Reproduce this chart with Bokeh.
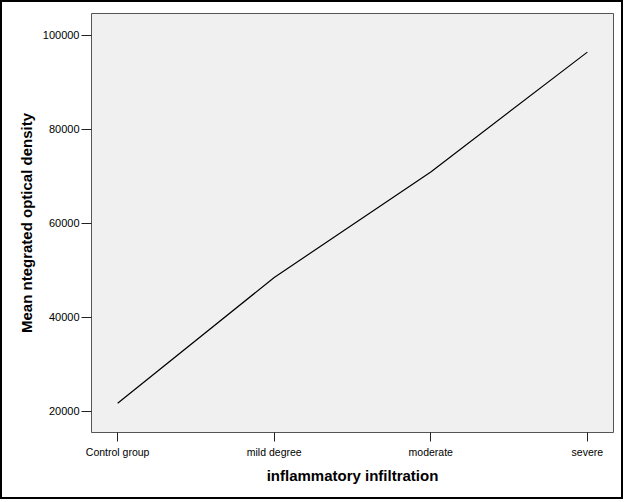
from bokeh.plotting import figure
from bokeh.models import Range1d, FixedTicker
from bokeh.embed import file_html
from bokeh.resources import INLINE

categories = ["Control group", "mild degree", "moderate", "severe"]
mean_iod = [21700, 48450, 70900, 96400]
y_ticks = [20000, 40000, 60000, 80000, 100000]

x_pos = list(range(len(categories)))

p = figure(width=623, height=499, output_backend="svg", toolbar_location=None,
           x_range=Range1d(-0.167, len(categories) - 1 + 0.167),
           y_range=Range1d(15468, 104617),
           min_border_left=89, min_border_right=12, min_border_top=11, min_border_bottom=69)

p.styles = {"border": "2px solid black"}

p.background_fill_color = "#f0f0f0"
p.border_fill_color = "white"
p.outline_line_color = "#555555"
p.outline_line_width = 1
p.grid.visible = False

p.line(x_pos, mean_iod, line_color="black", line_width=1.2)

p.xaxis.ticker = FixedTicker(ticks=x_pos)
p.xaxis.major_label_overrides = {i: c for i, c in enumerate(categories)}
p.yaxis.ticker = FixedTicker(ticks=y_ticks)

for ax in (p.xaxis[0], p.yaxis[0]):
    ax.axis_line_color = None
    ax.major_tick_line_color = "#222222"
    ax.major_tick_line_width = 1
    ax.major_tick_in = 0
    ax.minor_tick_line_color = None
    ax.major_label_text_font = "Liberation Sans"
    ax.major_label_text_color = "black"
    ax.axis_label_text_font = "Liberation Sans"
    ax.axis_label_text_font_style = "bold"
    ax.axis_label_text_font_size = "15px"
    ax.axis_label_text_color = "black"

p.xaxis.major_tick_out = 9
p.yaxis.major_tick_out = 10
p.xaxis.major_label_text_font_size = "10.5px"
p.yaxis.major_label_text_font_size = "11px"
p.xaxis.major_label_standoff = 4
p.yaxis.major_label_standoff = 2
p.yaxis.formatter.use_scientific = False

p.xaxis.axis_label = "inflammatory infiltration"
p.yaxis.axis_label = "Mean ntegrated optical density"
p.xaxis.axis_label_standoff = 6
p.yaxis.axis_label_standoff = 5

open("out.html", "w").write(file_html(p, INLINE))
